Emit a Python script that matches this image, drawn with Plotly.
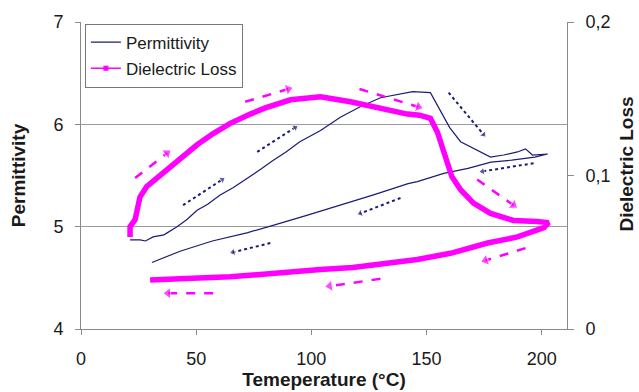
import plotly.graph_objects as go

# ---------------- data ----------------
# Permittivity: heating run followed by cooling run (temperature in °C)
perm_T = [21.3, 25.7, 28.0, 31.3, 36.0, 41.7, 46.0, 50.4, 55.0, 60.4, 66.0, 73.5, 78.0,
          83.5, 89.0, 95.0, 104.0, 112.6, 121.0, 130.0, 138.7, 144.0, 151.7, 156.0, 160.0,
          164.8, 172.0, 177.8, 183.5, 189.5, 193.0, 196.0, 202.6,
          197.0, 187.0, 178.0, 168.0, 157.5, 146.0, 142.0, 127.0, 113.0, 98.0, 83.0,
          72.0, 57.0, 43.0, 30.8]
perm_val = [4.87, 4.87, 4.86, 4.90, 4.92, 5.00, 5.07, 5.16, 5.22, 5.31, 5.38, 5.49, 5.56,
            5.65, 5.73, 5.83, 5.94, 6.07, 6.17, 6.26, 6.30, 6.32, 6.31, 6.14, 5.97,
            5.83, 5.75, 5.68, 5.70, 5.73, 5.76, 5.70, 5.71,
            5.68, 5.65, 5.63, 5.57, 5.52, 5.44, 5.42, 5.31, 5.21, 5.11, 5.01,
            4.94, 4.86, 4.76, 4.65]

# Dielectric loss: heating run followed by cooling run
loss_T = [21.3, 21.3, 23.5, 25.6, 28.5, 35.6, 43.0, 50.4, 57.4, 64.8, 73.5, 80.0, 91.0,
          104.0, 117.0, 130.0, 141.7, 147.0, 151.7, 154.8, 157.4, 161.0, 164.8, 170.4,
          177.8, 187.8, 198.0, 203.0,
          201.0, 189.5, 176.5, 160.4, 146.0, 133.0, 118.0, 104.0, 86.5, 64.8, 43.0, 30.0]
loss_val = [0.060, 0.0667, 0.0713, 0.086, 0.0927, 0.1013, 0.110, 0.120, 0.1273, 0.134,
            0.140, 0.144, 0.1493, 0.1513, 0.148, 0.144, 0.140, 0.1393, 0.1373, 0.128,
            0.1147, 0.0993, 0.0907, 0.082, 0.0753, 0.0707, 0.070, 0.0693,
            0.066, 0.060, 0.056, 0.0493, 0.0453, 0.0427, 0.040, 0.0387, 0.0367, 0.034,
            0.0327, 0.032]

# Direction arrows (left-axis units): tail -> head
loss_arrow_x0 = [23.5, 71.3, 120.9, 172.0, 193.0, 130.0, 57.4]
loss_arrow_y0 = [5.475, 6.22, 6.345, 5.46, 4.79, 4.49, 4.35]
loss_arrow_x1 = [37.4, 90.0, 146.5, 187.8, 175.6, 108.0, 37.8]
loss_arrow_y1 = [5.72, 6.345, 6.17, 5.21, 4.67, 4.42, 4.35]

perm_arrow_x0 = [44.3, 76.5, 159.6, 196.5, 138.7, 82.2]
perm_arrow_y0 = [5.21, 5.73, 6.31, 5.62, 5.28, 4.84]
perm_arrow_x1 = [61.3, 93.0, 174.8, 174.3, 121.3, 66.0]
perm_arrow_y1 = [5.46, 5.97, 5.90, 5.54, 5.13, 4.75]

x_ticks = [0, 50, 100, 150, 200]
y_ticks = [4, 5, 6, 7]
y2_ticks = [0, 0.1, 0.2]
y2_ticktext = ["0", "0,1", "0,2"]

NAVY = "#1c1c74"
MAG = "#ff00ff"
AXC = "#8a8a8a"
TXT = "#1a1a1a"
FONT = "Liberation Sans, Arial, sans-serif"

fig = go.Figure()

# main curves
fig.add_trace(go.Scatter(x=loss_T, y=loss_val, yaxis="y2", mode="lines",
                         line=dict(color=MAG, width=5.5), showlegend=False,
                         hoverinfo="skip"))
fig.add_trace(go.Scatter(x=perm_T, y=perm_val, mode="lines",
                         line=dict(color=NAVY, width=1.2), showlegend=False,
                         hoverinfo="skip"))

# arrows
for x0, y0, x1, y1 in zip(loss_arrow_x0, loss_arrow_y0, loss_arrow_x1, loss_arrow_y1):
    fig.add_trace(go.Scatter(x=[x0, x1], y=[y0, y1], mode="lines+markers",
                             line=dict(color=MAG, width=2.5, dash="dash"),
                             marker=dict(symbol="triangle-up", size=[0, 10], color=MAG,
                                         angleref="previous"),
                             showlegend=False, hoverinfo="skip"))
for x0, y0, x1, y1 in zip(perm_arrow_x0, perm_arrow_y0, perm_arrow_x1, perm_arrow_y1):
    fig.add_trace(go.Scatter(x=[x0, x1], y=[y0, y1], mode="lines+markers",
                             line=dict(color=NAVY, width=2, dash="dot"),
                             marker=dict(symbol="triangle-up", size=[0, 7], color=NAVY,
                                         angleref="previous"),
                             showlegend=False, hoverinfo="skip"))

# legend entries
fig.add_trace(go.Scatter(x=[None], y=[None], mode="lines", name="Permittivity",
                         line=dict(color=NAVY, width=1.3), legendgroup="a"))
fig.add_trace(go.Scatter(x=[None], y=[None], mode="lines+markers", name="Dielectric Loss",
                         line=dict(color=MAG, width=1.5),
                         marker=dict(symbol="square", size=5, color=MAG), legendgroup="b"))

fig.update_layout(
    width=639, height=392,
    margin=dict(l=81, r=72, t=22, b=63),
    paper_bgcolor="white", plot_bgcolor="white",
    font=dict(family=FONT, color=TXT, size=18),
    showlegend=True,
    legend=dict(x=0.008, y=0.995, xanchor="left", yanchor="top",
                bgcolor="white", bordercolor="#777", borderwidth=1,
                font=dict(size=17, family=FONT, color=TXT),
                tracegroupgap=1, itemwidth=30),
    xaxis=dict(range=[0, 211], tickvals=x_ticks, ticks="outside", ticklen=5,
               tickcolor=AXC, showline=True, linecolor=AXC, linewidth=1,
               showgrid=False, zeroline=False, tickfont=dict(size=18),
               ticklabelstandoff=8, automargin=False,
               title=dict(text="<b>Temeperature (°C)</b>", font=dict(size=19), standoff=5)),
    yaxis=dict(range=[4, 7], tickvals=y_ticks, ticks="outside", ticklen=5,
               tickcolor=AXC, showline=True, linecolor=AXC, linewidth=1,
               showgrid=True, gridcolor="#9a9a9a", gridwidth=1, zeroline=False,
               tickfont=dict(size=18), ticklabelstandoff=8, automargin=False,
               title=dict(text="<b>Permittivity</b>", font=dict(size=19), standoff=22)),
    yaxis2=dict(range=[0, 0.2], overlaying="y", side="right", tickvals=y2_ticks,
                ticktext=y2_ticktext, ticks="outside", ticklen=6, tickcolor=AXC,
                showline=True, linecolor=AXC, linewidth=1, showgrid=False,
                zeroline=False, tickfont=dict(size=18), ticklabelstandoff=8,
                automargin=False),
    annotations=[dict(text="<b>Dielectric Loss</b>", textangle=-90, xref="paper",
                      yref="paper", x=1.148, y=0.537, showarrow=False,
                      font=dict(size=19, family=FONT, color=TXT))],
)

fig.write_html("out.html")
